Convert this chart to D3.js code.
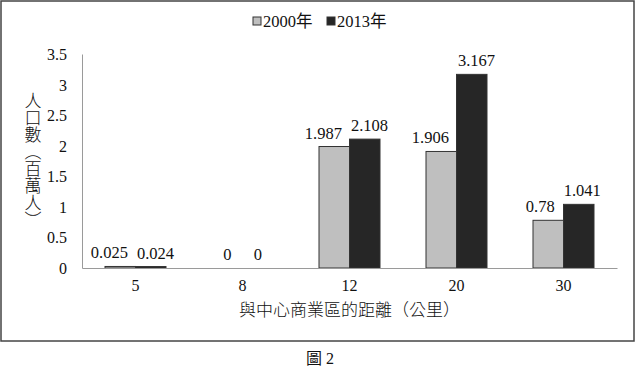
<!DOCTYPE html>
<html>
<head>
<meta charset="utf-8">
<script src="https://cdn.jsdelivr.net/npm/d3@7"></script>
<style>
  body { margin: 0; background: #fff; }
  svg text { font-family: "Liberation Serif", "Times New Roman", serif; fill: #111; }
  svg text.cjk { font-family: "Liberation Serif", "Times New Roman", "Noto Sans CJK TC", serif; }
</style>
</head>
<body>
<div id="chart"></div>
<script>
// data
const categories = ["5", "8", "12", "20", "30"];
const seriesNames = ["2000年", "2013年"];
const values2000 = [0.025, 0, 1.987, 1.906, 0.78];
const values2013 = [0.024, 0, 2.108, 3.167, 1.041];
const yTicks = [0, 0.5, 1, 1.5, 2, 2.5, 3, 3.5];

const colors = ["#bfbfbf", "#262626"];

let W = 637, H = 374;
let margin = {top: 54, right: 20, bottom: 106, left: 82},
    width = 617 - margin.left,
    height = 268 - margin.top;

let svg = d3.select("#chart")
    .append("svg")
    .attr("width", W)
    .attr("height", H);

// outer frame
svg.append("rect")
    .attr("x", 1).attr("y", 1)
    .attr("width", 633).attr("height", 340)
    .attr("fill", "none")
    .attr("stroke", "#444")
    .attr("stroke-width", 1.5);

let g = svg.append("g")
    .attr("transform", `translate(${margin.left}, ${margin.top})`);

let x = d3.scaleBand().domain(categories).range([0, width]);
let groupW = 61;
let xSub = d3.scaleBand().domain(seriesNames)
    .range([(x.bandwidth() - groupW) / 2, (x.bandwidth() + groupW) / 2]);
let y = d3.scaleLinear().domain([0, 3.5]).range([height, 0]);

// y axis
g.append("g")
    .call(d3.axisLeft(y).tickValues(yTicks).tickFormat(d => d).tickSize(0).tickPadding(15))
    .call(a => a.attr("font-family", null))
    .call(a => a.select(".domain").attr("stroke", "#9a9a9a"))
    .call(a => a.selectAll("text").attr("font-size", 16).attr("dy", "0.34em"));

let data = categories.map((c, i) => ({cat: c, vals: [values2000[i], values2013[i]]}));

// bars
let groups = g.selectAll(".grp")
    .data(data)
    .join("g")
    .attr("class", "grp")
    .attr("transform", d => `translate(${x(d.cat)}, 0)`);

groups.selectAll("rect")
    .data(d => d.vals.map((v, j) => ({s: seriesNames[j], v: v, j: j})))
    .join("rect")
    .attr("x", d => xSub(d.s))
    .attr("width", xSub.bandwidth())
    .attr("y", d => y(d.v))
    .attr("height", d => y(0) - y(d.v))
    .attr("fill", d => colors[d.j])
    .attr("stroke", "#333")
    .attr("stroke-width", 1);

// x axis (drawn after bars so the line sits on top)
g.append("g")
    .attr("transform", `translate(0, ${height})`)
    .call(d3.axisBottom(x).tickSize(0).tickPadding(12))
    .call(a => a.attr("font-family", null))
    .call(a => a.select(".domain").attr("stroke", "#9a9a9a"))
    .call(a => a.selectAll("text").attr("font-size", 16));

// value labels
groups.each(function(d) {
    let grp = d3.select(this);
    let labels = d.vals.map((v, j) => grp.append("text")
        .attr("x", xSub(seriesNames[j]) + xSub.bandwidth() / 2)
        .attr("y", y(v) - 8)
        .attr("text-anchor", "middle")
        .attr("font-size", 16.5)
        .text(v));
    // push apart labels that overlap
    let b0 = labels[0].node().getBBox(), b1 = labels[1].node().getBBox();
    let overlap = (b0.x + b0.width + 9) - b1.x;
    if (overlap > 0) {
        labels[0].attr("x", +labels[0].attr("x") - overlap * 0.7);
        labels[1].attr("x", +labels[1].attr("x") + overlap * 0.3);
    }
});

// y title, vertical
svg.append("text")
    .attr("x", 33)
    .attr("y", 92)
    .attr("font-size", 17)
    .style("writing-mode", "vertical-rl")
    .style("text-orientation", "upright")
    .style("font-family", "'Noto Sans CJK TC'")
    .style("font-weight", 300)
    .text("人口數（百萬人）");

// x title
svg.append("text")
    .attr("x", margin.left + width / 2)
    .attr("y", 316)
    .attr("text-anchor", "middle")
    .attr("font-size", 17)
    .style("font-family", "'Noto Sans CJK TC'")
    .style("font-weight", 300)
    .text("與中心商業區的距離（公里）");

// legend
let legend = svg.append("g").attr("transform", "translate(253, 0)");
let legX = [0, 74];
seriesNames.forEach((s, i) => {
    legend.append("rect")
        .attr("x", legX[i]).attr("y", 17)
        .attr("width", 8).attr("height", 8)
        .attr("fill", colors[i])
        .attr("stroke", "#333");
    legend.append("text")
        .attr("class", "cjk")
        .attr("x", legX[i] + 10).attr("y", 27)
        .attr("font-size", 16.5)
        .text(s);
});

// caption
svg.append("text")
    .attr("class", "cjk")
    .attr("x", 320)
    .attr("y", 364)
    .attr("text-anchor", "middle")
    .attr("font-size", 16)
    .text("圖 2");
</script>
</body>
</html>
